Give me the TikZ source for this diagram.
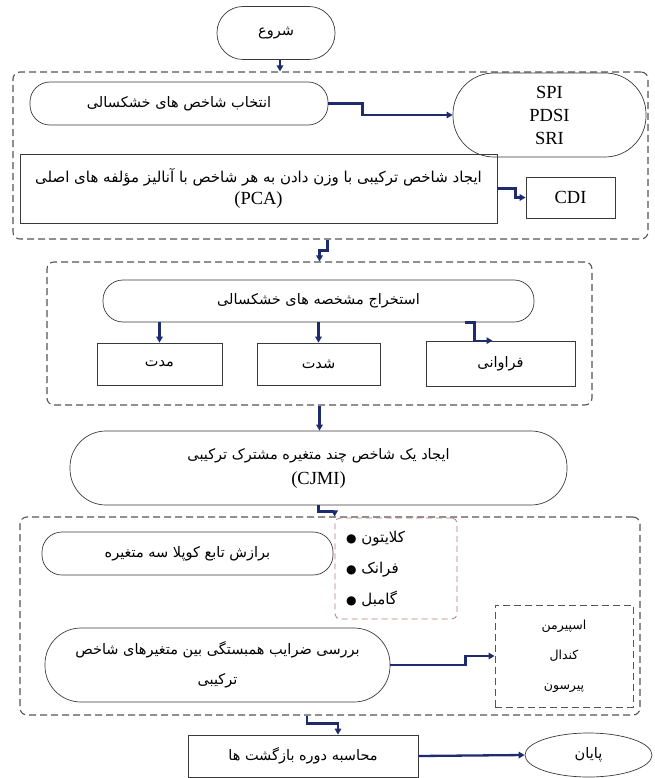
\documentclass[tikz,border=0pt]{standalone}
\usepackage{fontspec}
\setmainfont{Liberation Serif}
\newfontfamily\fa[Script=Arabic]{DejaVu Sans}
\TeXXeTstate=1
\usetikzlibrary{arrows.meta,shapes.geometric}
\newcommand\prs[1]{{\fa\beginR #1\endR}}
\definecolor{navy}{HTML}{1E2B6E}
\definecolor{boxc}{HTML}{3A3A3A}
\definecolor{framec}{HTML}{555555}
\definecolor{redc}{HTML}{B87878}
\tikzset{
  box/.style={draw=boxc, line width=0.7pt, inner sep=2pt, align=center, font=\fontsize{14.5}{20}\selectfont},
  stadium/.style={box, rounded corners=20pt},
  frame/.style={draw=framec, dash pattern=on 7pt off 4pt, line width=1.1pt, rounded corners=7pt},
  arr/.style={draw=navy, line width=2.3pt, -{Triangle[length=6pt,width=6.5pt]}},
  latin/.style={font=\fontsize{18.5}{23}\selectfont}
}
\begin{document}
\begin{tikzpicture}[x=1pt,y=-1pt]
\useasboundingbox (0,0) rectangle (654,778);
% frames
\node[frame, minimum width=635pt, minimum height=167pt] (f1) at (330.5,155.5) {};
\node[frame, minimum width=545pt, minimum height=143pt] (f2) at (319.5,333.5) {};
\node[frame, minimum width=620pt, minimum height=198pt] (f3) at (330,616) {};
% nodes
\node[stadium, rounded corners=26pt, minimum width=118pt, minimum height=53pt] (start) at (276,33) {\prs{شروع}};
\node[stadium, minimum width=298pt, minimum height=43pt] (sel) at (179,103.5) {\prs{انتخاب شاخص های خشکسالی}};
\node[box, rounded corners=41pt, minimum width=193pt, minimum height=84pt, latin] (spi) at (549.5,115) {SPI\\PDSI\\SRI};
\node[box, minimum width=477pt, minimum height=69pt, font=\fontsize{15}{22}\selectfont] (pca) at (258.5,188.5) {\prs{ایجاد شاخص ترکیبی با وزن دادن به هر شاخص با آنالیز مؤلفه های اصلی}\\{\fontsize{18.5}{22}\selectfont(PCA)}};
\node[box, minimum width=89pt, minimum height=41pt, latin] (cdi) at (570.5,197.5) {CDI};
\node[stadium, minimum width=431pt, minimum height=42pt] (ext) at (318.5,301) {\prs{استخراج مشخصه های خشکسالی}};
\node[box, minimum width=125pt, minimum height=42pt] (mod) at (159.5,364) {\prs{مدت}};
\node[box, minimum width=123pt, minimum height=42pt] (shd) at (318.5,364) {\prs{شدت}};
\node[box, minimum width=149pt, minimum height=45pt] (frq) at (500.5,363.5) {\prs{فراوانی}};
\node[stadium, rounded corners=36pt, minimum width=497pt, minimum height=74pt, font=\fontsize{14.5}{25}\selectfont] (cjmi) at (318.5,468) {\prs{ایجاد یک شاخص چند متغیره مشترک ترکیبی}\\{\fontsize{18.5}{25}\selectfont(CJMI)}};
\node[draw=redc, dash pattern=on 6pt off 4pt, line width=0.8pt, rounded corners=5pt, minimum width=122pt, minimum height=101pt, text width=100pt, inner sep=0pt, align=left, font=\fa\fontsize{15}{31}\selectfont] (red) at (396,568.5) {{\fontsize{12}{31}\selectfont●} \beginR کلایتون\endR\\{\fontsize{12}{31}\selectfont●} \beginR فرانک\endR\\{\fontsize{12}{31}\selectfont●} \beginR گامبل\endR};
\node[stadium, minimum width=291pt, minimum height=43pt] (fit) at (187.5,553.5) {\prs{برازش تابع کوپلا سه متغیره}};
\node[stadium, rounded corners=36pt, minimum width=345pt, minimum height=74pt, font=\fontsize{14.5}{30}\selectfont] (corr) at (217.5,665) {\prs{بررسی ضرایب همبستگی بین متغیرهای شاخص}\\\prs{ترکیبی}};
\node[draw=framec, dash pattern=on 7pt off 4pt, line width=0.9pt, minimum width=138pt, minimum height=102pt, align=center, font=\fa\fontsize{12.5}{30}\selectfont] (meth) at (564,656) {\beginR اسپیرمن\endR\\\beginR کندال\endR\\\beginR پیرسون\endR};
\node[box, minimum width=230pt, minimum height=42pt] (ret) at (303,756) {\prs{محاسبه دوره بازگشت ها}};
\node[box, ellipse, minimum width=127pt, minimum height=44pt, inner sep=0pt] (end) at (588.5,755) {\prs{پایان}};
% connectors
\draw[arr] ([xshift=4pt]start.south) -- ([xshift=4pt]start.south |- f1.north);
\draw[arr] (sel.east) -- ++(34,0) |- (spi.west);
\draw[arr] (pca.east) -- ++(18,0) |- (cdi.west);
\draw[arr] ([xshift=-3pt]f1.south) -- ++(0,11) -| (f2.north);
\draw[arr] (mod.north |- ext.south) -- (mod.north);
\draw[arr] (shd.north |- ext.south) -- (shd.north);
\draw[arr] ([xshift=146pt]ext.south) -- ++(10,0) |- ([xshift=-8pt]frq.north);
\draw[arr] (f2.south) -- (f2.south |- cjmi.north);
\draw[arr] (cjmi.south) -- ++(0,6) -| (f3.north -| red.west);
\draw[arr] (corr.east) -- ++(75,0) |- (meth.west);
\draw[arr] ([xshift=-23pt]f3.south) -- ++(0,8) -| ([xshift=35pt]ret.north);
\draw[arr] (ret.east) -- (end.west);
\end{tikzpicture}
\end{document}
